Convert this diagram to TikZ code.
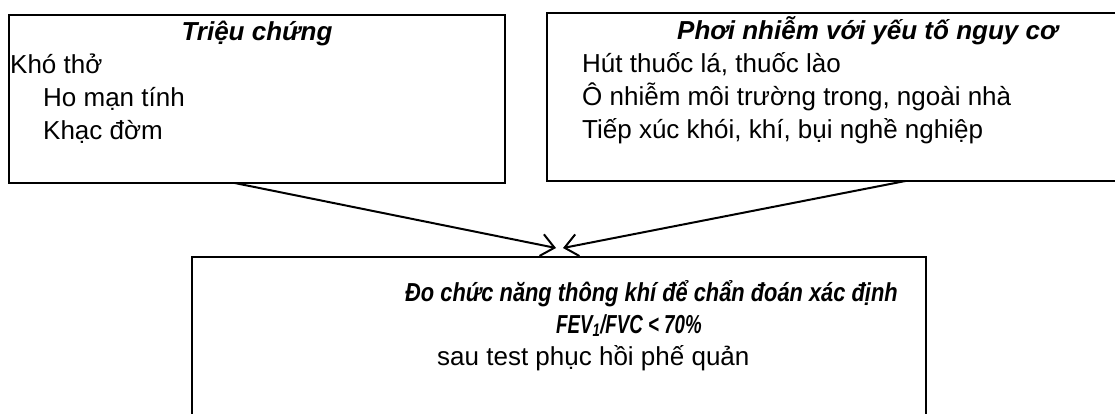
\documentclass[tikz,border=0pt]{standalone}
\usepackage{fontspec}
\setmainfont{Liberation Sans}
\usetikzlibrary{arrows.meta,calc}

\begin{document}
\begin{tikzpicture}[x=1pt,y=-1pt,
  box/.style={draw,line width=2.4pt,inner sep=0pt,outer sep=0pt,anchor=north west},
  txt/.style={inner sep=0pt,anchor=base west,font=\fontsize{26}{33}\selectfont},
  ttl/.style={txt,font=\fontsize{26}{33}\selectfont\bfseries\itshape},
  arr/.style={line width=2pt,-{Straight Barb[length=13pt,width=22pt,line width=2pt]}}]
  \useasboundingbox (0,0) rectangle (1115,413);
  \clip (0,0) rectangle (1115,413);

  % the three boxes
  \node[box,minimum width=496pt,minimum height=168pt] (b1) at (9,15) {};
  \node[box,minimum width=640pt,minimum height=168pt] (b2) at (547,13) {};
  \node[box,minimum width=734pt,minimum height=200pt] (b3) at (192,257) {};

  % symptoms
  \node[ttl,anchor=base] (t1) at (257,40) {Triệu chứng};
  \node[txt] (s1) at (10,73) {Khó thở};
  \node[txt] (s2) at (43,106) {Ho mạn tính};
  \node[txt] (s3) at (43,139) {Khạc đờm};

  % risk factors
  \node[ttl] (t2) at (677,39) {Phơi nhiễm với yếu tố nguy cơ};
  \node[txt] (r1) at (582,72) {Hút thuốc lá, thuốc lào};
  \node[txt] (r2) at (582,105) {Ô nhiễm môi trường trong, ngoài nhà};
  \node[txt] (r3) at (582,138) {Tiếp xúc khói, khí, bụi nghề nghiệp};

  % diagnosis (bold lines are set condensed)
  \node[ttl] (t3) at (405,301) {\scalebox{0.84}[1]{Đo chức năng thông khí để chẩn đoán xác định}};
  \node[ttl] (d1) at (556,333) {\scalebox{0.72}[1]{FEV\textsubscript{1}/FVC < 70\%}};
  \node[txt] (d2) at (437,365) {sau test phục hồi phế quản};

  % converging arrows
  \coordinate (tipL) at (556,248);
  \coordinate (tipR) at (563,248);
  \draw[arr] ($(b1.south west)!0.455!(b1.south east)$) -- (tipL);
  \draw[arr] ($(b2.south west)!0.560!(b2.south east)$) -- (tipR);
\end{tikzpicture}
\end{document}
